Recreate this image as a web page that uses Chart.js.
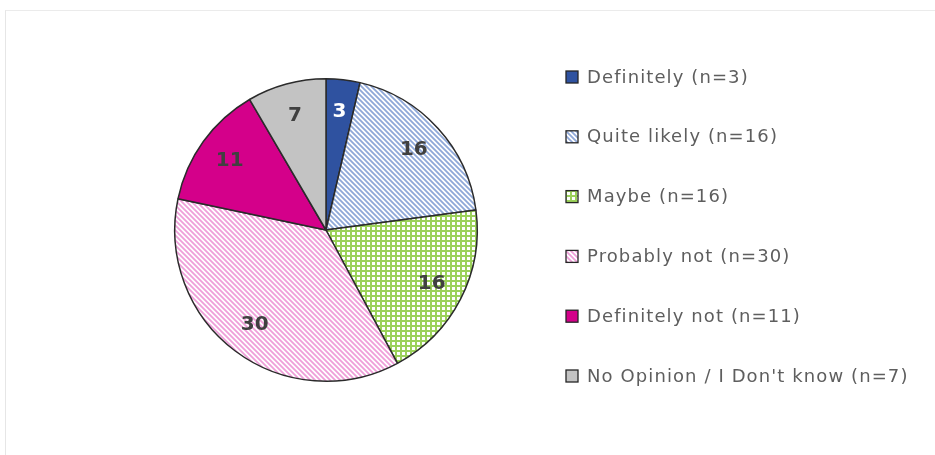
<!DOCTYPE html>
<html>
<head>
<meta charset="utf-8">
<script src="https://cdn.jsdelivr.net/npm/chart.js@4.4.1/dist/chart.umd.min.js"></script>
<style>
  html, body { margin: 0; padding: 0; background: #fff; }
  #wrap { position: relative; width: 935px; height: 455px; }
  #frame { position: absolute; left: 5px; top: 10px; right: 0; bottom: 0;
           border-left: 1px solid #e6e6e6; border-top: 1px solid #ebebeb; }
  canvas { position: absolute; left: 0; top: 0; }
</style>
</head>
<body>
<div id="wrap">
  <div id="frame"></div>
  <canvas id="grafico" width="935" height="455"></canvas>
</div>
<script>
// Datos del grafico
const categorias = [
  "Definitely (n=3)",
  "Quite likely (n=16)",
  "Maybe (n=16)",
  "Probably not (n=30)",
  "Definitely not (n=11)",
  "No Opinion / I Don't know (n=7)"
];
const valores = [3, 16, 16, 30, 11, 7];
const colorEtiqueta = ["#ffffff", "#404040", "#404040", "#404040", "#404040", "#404040"];

// Tramas (rayas y cuadricula)
function rayas(color, paso) {
  const c = document.createElement("canvas");
  c.width = paso; c.height = paso;
  const g = c.getContext("2d");
  g.fillStyle = "#ffffff";
  g.fillRect(0, 0, paso, paso);
  g.strokeStyle = color;
  g.lineWidth = 1.8;
  g.beginPath();
  g.moveTo(-1, -1); g.lineTo(paso + 1, paso + 1);
  g.moveTo(-1, paso - 1); g.lineTo(1, paso + 1);
  g.moveTo(paso - 1, -1); g.lineTo(paso + 1, 1);
  g.stroke();
  return g.createPattern(c, "repeat");
}

function cuadricula(color, paso) {
  const c = document.createElement("canvas");
  c.width = paso; c.height = paso;
  const g = c.getContext("2d");
  g.fillStyle = "#ffffff";
  g.fillRect(0, 0, paso, paso);
  g.fillStyle = color;
  g.fillRect(0, 0, paso, 2);
  g.fillRect(0, 0, 2, paso);
  return g.createPattern(c, "repeat");
}

const fondos = [
  "#2f52a0",
  rayas("#8fa8d8", 5),
  cuadricula("#9bd15a", 5),
  rayas("#ef9fd9", 5),
  "#d4008a",
  "#c3c3c3"
];

// Etiquetas dentro de cada porcion
const etiquetas = {
  id: "etiquetas",
  afterDatasetsDraw(chart) {
    const ctx = chart.ctx;
    const meta = chart.getDatasetMeta(0);
    ctx.save();
    ctx.font = "bold 20px 'DejaVu Sans'";
    ctx.textAlign = "center";
    ctx.textBaseline = "middle";
    meta.data.forEach((arc, i) => {
      const p = arc.getProps(["startAngle", "endAngle", "outerRadius", "x", "y"], true);
      const a = (p.startAngle + p.endAngle) / 2;
      const r = p.outerRadius * 0.785;
      ctx.fillStyle = colorEtiqueta[i];
      ctx.fillText(String(valores[i]), p.x + Math.cos(a) * r, p.y + Math.sin(a) * r);
    });
    ctx.restore();
  }
};

// Leyenda a la derecha
const leyenda = {
  id: "leyenda",
  afterDraw(chart) {
    const ctx = chart.ctx;
    ctx.save();
    ctx.font = "18px 'DejaVu Sans'";
    ctx.letterSpacing = "1.1px";
    ctx.textBaseline = "middle";
    categorias.forEach((txt, i) => {
      const y = 77 + i * 59.8;
      ctx.fillStyle = fondos[i];
      ctx.fillRect(566, y - 6, 12, 12);
      ctx.strokeStyle = "#262626";
      ctx.lineWidth = 1.3;
      ctx.strokeRect(566, y - 6, 12, 12);
      ctx.fillStyle = "#5e5e5e";
      ctx.fillText(txt, 587, y + 1);
    });
    ctx.restore();
  }
};

const ctx = document.getElementById("grafico");

const chart = new Chart(ctx, {
  type: "pie",
  data: {
    labels: categorias,
    datasets: [
      {
        data: valores,
        backgroundColor: fondos,
        borderColor: "#2b2b2b",
        borderWidth: 1.5,
      },
    ],
  },
  options: {
    responsive: false,
    animation: false,
    layout: {
      padding: { left: 174, right: 457, top: 78, bottom: 73 },
    },
    plugins: {
      legend: { display: false },
      tooltip: { enabled: false },
    },
  },
  plugins: [etiquetas, leyenda],
});
</script>
</body>
</html>
